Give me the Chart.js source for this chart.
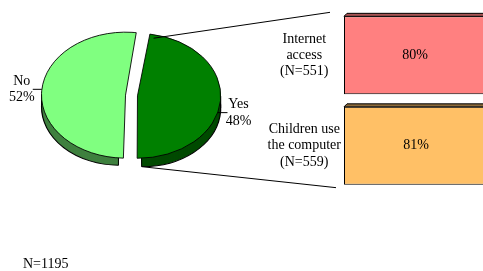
<!DOCTYPE html>
<html>
<head>
<meta charset="utf-8">
<script src="https://cdn.jsdelivr.net/npm/chart.js@4.4.0/dist/chart.umd.min.js"></script>
<style>
html, body { margin: 0; padding: 0; background: #fff; }
body { width: 483px; height: 271px; overflow: hidden; position: relative; }
#pie { position: absolute; left: 0; top: 0; }
#bars { position: absolute; left: 240px; top: 0; }
</style>
</head>
<body>
<canvas id="pie" width="483" height="271"></canvas>
<canvas id="bars" width="282" height="200"></canvas>
<script>
const pieLabels = ['Yes', 'No'];
const pieValues = [48, 52];
const pieColors = ['#008000', '#80ff80'];
const pieSides = ['#004a00', '#3f803f'];

const barLabels = [['Internet', 'access', '(N=551)'], ['Children use', 'the computer', '(N=559)']];
const barValues = [80, 81];
const barColors = ['#ff8080', '#ffc066'];
const barTops = ['#a85454', '#8c6a3a'];

const totalN = 'N=1195';

const SQUASH = 0.75, DEPTH = 12;
const FONT = "14px 'Liberation Serif', serif";

Chart.defaults.font.family = "'Liberation Serif', serif";
Chart.defaults.color = '#000';
Chart.defaults.animation = false;

// 3d top edge + value text on the bars
const barTop = {
  id: 'barTop',
  afterDatasetsDraw(chart) {
    const ctx = chart.ctx;
    chart.getDatasetMeta(0).data.forEach((b, i) => {
      const top = b.y - b.height / 2;
      ctx.save();
      ctx.beginPath();
      ctx.moveTo(b.base, top);
      ctx.lineTo(b.base + 3, top - 3);
      ctx.lineTo(b.x + 3, top - 3);
      ctx.lineTo(b.x, top);
      ctx.closePath();
      ctx.fillStyle = barTops[i];
      ctx.fill();
      ctx.strokeStyle = '#000';
      ctx.lineWidth = 1;
      ctx.stroke();
      ctx.font = FONT;
      ctx.fillStyle = '#000';
      ctx.textAlign = 'center';
      ctx.textBaseline = 'middle';
      ctx.fillText(barValues[i] + '%', (b.base + b.x) / 2, b.y);
      ctx.restore();
    });
  }
};

const barChart = new Chart(document.getElementById('bars'), {
  type: 'bar',
  data: {
    labels: barLabels,
    datasets: [{
      data: barValues,
      backgroundColor: barColors,
      borderColor: '#000',
      borderWidth: 1,
      borderSkipped: false,
      barPercentage: 1,
      categoryPercentage: 0.86
    }]
  },
  options: {
    indexAxis: 'y',
    responsive: false,
    devicePixelRatio: 1,
    layout: { padding: { top: 10, bottom: 9, left: 0, right: 0 } },
    plugins: { legend: { display: false }, tooltip: { enabled: false } },
    scales: {
      x: { display: false, min: 0, max: 100 },
      y: {
        afterFit(s) { s.width = 104; s.paddingTop = 0; s.paddingBottom = 0; },
        grid: { display: false, drawTicks: false },
        border: { display: false },
        ticks: { crossAlign: 'center', padding: 3, color: '#000', font: { size: 14, lineHeight: 1.15 } }
      }
    }
  },
  plugins: [barTop]
});

function arcGeom(a) {
  const p = a.getProps(['x', 'y', 'startAngle', 'endAngle', 'outerRadius', 'circumference']);
  const off = (a.options.offset || 0) / 4;
  const fix = 1 - Math.sin(Math.min(Math.PI, p.circumference || 0));
  const mid = (p.startAngle + p.endAngle) / 2;
  const shift = off * (1 + fix);
  return Object.assign(p, { mid, cx: p.x + Math.cos(mid) * shift, cy: p.y + Math.sin(mid) * shift });
}
function onScreen(g, ang, r) {
  return [g.cx + r * Math.cos(ang), g.y + (g.cy + r * Math.sin(ang) - g.y) * SQUASH];
}
function inRange(t, s, e) {
  while (t < s) t += Math.PI * 2;
  return t <= e;
}
function line(ctx, x1, y1, x2, y2) {
  ctx.beginPath();
  ctx.moveTo(x1, y1);
  ctx.lineTo(x2, y2);
  ctx.stroke();
}

const pie3d = {
  id: 'pie3d',
  beforeDatasetsDraw(chart) {
    const ctx = chart.ctx;
    const arcs = chart.getDatasetMeta(0).data;
    const cy0 = arcs[0].y;
    ctx.save();
    ctx.translate(0, cy0); ctx.scale(1, SQUASH); ctx.translate(0, -cy0);
    arcs.forEach((a, i) => {
      const g = arcGeom(a);
      for (let d = DEPTH; d >= 1; d--) {
        ctx.beginPath();
        ctx.moveTo(g.cx, g.cy + d / SQUASH);
        ctx.arc(g.cx, g.cy + d / SQUASH, g.outerRadius, g.startAngle, g.endAngle);
        ctx.closePath();
        ctx.fillStyle = pieSides[i];
        ctx.fill();
      }
      ctx.beginPath();
      ctx.arc(g.cx, g.cy + DEPTH / SQUASH, g.outerRadius, g.startAngle, g.endAngle);
      ctx.strokeStyle = '#000';
      ctx.lineWidth = 1.2;
      ctx.stroke();
    });
    ctx.restore();
    // vertical edges of the side
    ctx.save();
    ctx.strokeStyle = '#000';
    ctx.lineWidth = 1;
    arcs.forEach(a => {
      const g = arcGeom(a);
      [0, Math.PI, g.startAngle, g.endAngle].forEach(t => {
        if (Math.sin(t) < -0.01 || !inRange(t, g.startAngle - 1e-6, g.endAngle + 1e-6)) return;
        const [x, y] = onScreen(g, t, g.outerRadius);
        line(ctx, x, y, x, y + DEPTH);
      });
    });
    ctx.restore();
    ctx.save();
    ctx.translate(0, cy0); ctx.scale(1, SQUASH); ctx.translate(0, -cy0);
  },
  afterDatasetsDraw(chart) {
    const ctx = chart.ctx;
    ctx.restore();
    const arcs = chart.getDatasetMeta(0).data;
    ctx.save();
    ctx.font = FONT;
    ctx.fillStyle = '#000';
    ctx.strokeStyle = '#000';
    ctx.lineWidth = 1;
    ctx.textAlign = 'center';
    ctx.textBaseline = 'middle';
    arcs.forEach((a, i) => {
      const g = arcGeom(a);
      const [ex, ey] = onScreen(g, g.mid, g.outerRadius);
      if (Math.cos(g.mid) > 0) {
        line(ctx, ex - 3, ey + 12, ex + 7, ey + 12);
        ctx.fillText(pieLabels[i], ex + 18, ey + 4);
        ctx.fillText(pieValues[i] + '%', ex + 18, ey + 21);
      } else {
        line(ctx, ex - 9, ey - 1, ex, ey - 1);
        ctx.fillText(pieLabels[i], ex - 20, ey - 9);
        ctx.fillText(pieValues[i] + '%', ex - 20, ey + 7);
      }
    });
    // connector lines from the "Yes" slice to the bars
    const g = arcGeom(arcs[0]);
    const bars = barChart.getDatasetMeta(0).data;
    const left = barChart.canvas.offsetLeft;
    const [tx, ty] = onScreen(g, g.startAngle, g.outerRadius);
    const [bx, by] = onScreen(g, g.endAngle, g.outerRadius);
    line(ctx, tx, ty, left + bars[0].base - 14, bars[0].y - bars[0].height / 2 - 4);
    line(ctx, bx, by + DEPTH, left + bars[1].base - 8, bars[1].y + bars[1].height / 2 + 3);
    ctx.textAlign = 'left';
    ctx.fillText(totalN, 23, 264);
    ctx.restore();
  }
};

new Chart(document.getElementById('pie'), {
  type: 'pie',
  data: {
    labels: pieLabels,
    datasets: [{
      data: pieValues,
      backgroundColor: pieColors,
      borderColor: '#000',
      borderWidth: 1,
      offset: 24,
      rotation: 8,
      radius: 78
    }]
  },
  options: {
    responsive: false,
    devicePixelRatio: 1,
    events: [],
    layout: { padding: { left: 0, top: 0, right: 220, bottom: 80 } },
    plugins: { legend: { display: false }, tooltip: { enabled: false } }
  },
  plugins: [pie3d]
});
</script>
</body>
</html>
